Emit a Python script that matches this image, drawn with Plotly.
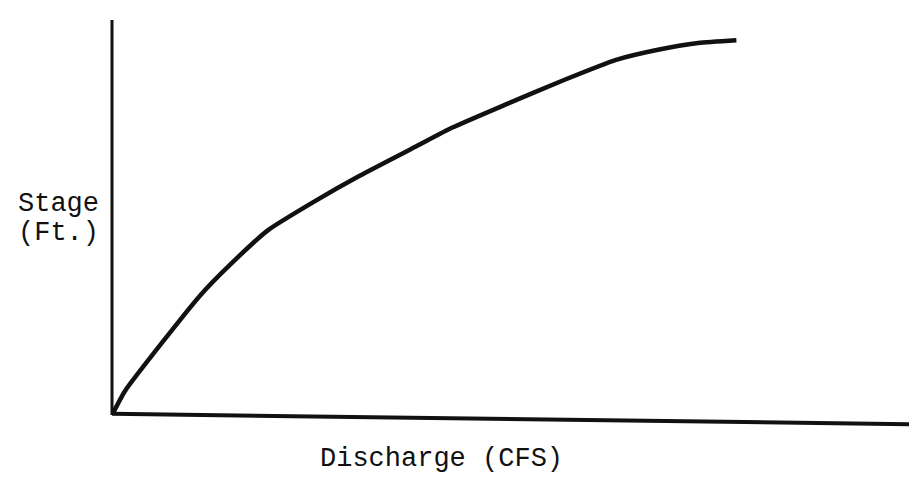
import plotly.graph_objects as go

# Stage-discharge (rating) curve, arbitrary units
discharge = [0, 1.6, 6.3, 10.9, 14.5, 19.2, 24.6, 30.4, 37.5, 41.8, 48.3, 55.6, 62.0, 67.0, 72.1, 76.8]
stage = [0, 6.1, 18.7, 30.4, 38.0, 46.8, 53.7, 60.5, 68.1, 72.7, 78.5, 84.8, 89.9, 92.4, 94.2, 94.9]

x_label = "Discharge (CFS)"
y_label_lines = ["Stage", "(Ft.)"]

FONT = "Liberation Mono, Courier New, monospace"
INK = "#111111"

fig = go.Figure()
fig.add_trace(go.Scatter(
    x=discharge, y=stage, mode="lines",
    line=dict(color=INK, width=4.5, shape="spline", smoothing=0.5),
    hoverinfo="skip", showlegend=False,
))

fig.update_xaxes(range=[0, 100], visible=False, fixedrange=True)
fig.update_yaxes(range=[0, 100], visible=False, fixedrange=True)

# hand-drawn axes (horizontal one slightly sloped as in the scan)
fig.add_shape(type="line", xref="paper", yref="paper", x0=0, y0=0, x1=0, y1=1,
              line=dict(color=INK, width=3))
fig.add_shape(type="line", xref="paper", yref="paper", x0=0, y0=0.003, x1=1, y1=-0.024,
              line=dict(color=INK, width=4))

fig.add_annotation(text=y_label_lines[0], xref="paper", yref="paper", x=0, y=0.535,
                   xanchor="right", yanchor="middle", xshift=-11, showarrow=False,
                   font=dict(family=FONT, size=27, color=INK))
fig.add_annotation(text=y_label_lines[1], xref="paper", yref="paper", x=0, y=0.460,
                   xanchor="right", yanchor="middle", xshift=-11, showarrow=False,
                   font=dict(family=FONT, size=27, color=INK))
fig.add_annotation(text=x_label, xref="paper", yref="paper", x=0.405, y=-0.112,
                   xanchor="center", yanchor="middle", showarrow=False,
                   font=dict(family=FONT, size=27, color=INK))

fig.update_layout(
    width=917, height=478,
    margin=dict(l=104, r=0, t=12, b=71),
    paper_bgcolor="white", plot_bgcolor="white",
)

fig.write_html("out.html")
